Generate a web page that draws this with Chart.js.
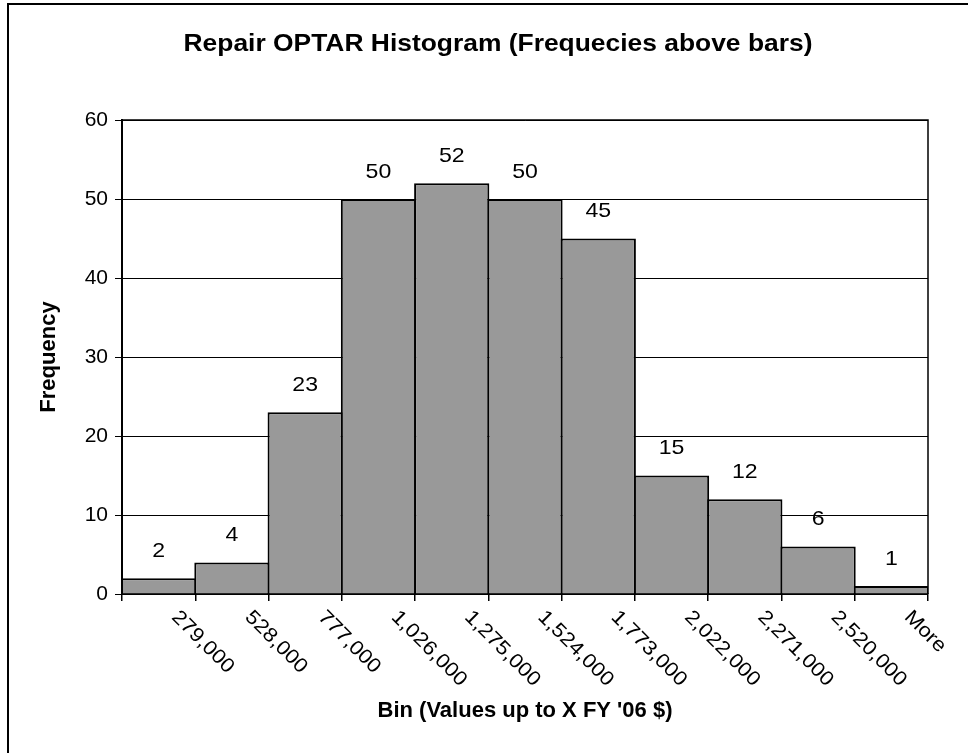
<!DOCTYPE html>
<html>
<head>
<meta charset="utf-8">
<script src="https://cdn.jsdelivr.net/npm/chart.js@4.4.0/dist/chart.umd.min.js"></script>
<style>
  html, body { margin: 0; padding: 0; background: #fff; }
  canvas { display: block; }
</style>
</head>
<body>
<canvas id="histChart" width="968" height="753"></canvas>
<script>
// ======================================================
// DATA
// ======================================================
const binLabels   = ['279,000', '528,000', '777,000', '1,026,000', '1,275,000', '1,524,000',
                     '1,773,000', '2,022,000', '2,271,000', '2,520,000', 'More'];
const frequencies = [2, 4, 23, 50, 52, 50, 45, 15, 12, 6, 1];
const yTicks      = [0, 10, 20, 30, 40, 50, 60];
const chartTitle  = 'Repair OPTAR Histogram (Frequecies above bars)';

const FONT = '"Liberation Sans", Arial, sans-serif';
const STRETCH = 1.1;   // the original text is drawn a bit wide

// ── Outer frame, title and plot border ────────────────
const framePlugin = {
    id: 'frame',
    beforeDraw(chart) {
        const ctx = chart.ctx;
        ctx.save();
        ctx.fillStyle = '#fff';
        ctx.fillRect(0, 0, chart.width, chart.height);
        ctx.strokeStyle = '#000';
        ctx.lineWidth = 2;
        ctx.strokeRect(8, 4, 2000, 2000);

        // title
        ctx.fillStyle = '#000';
        ctx.font = 'bold 24px ' + FONT;
        ctx.textAlign = 'center';
        ctx.textBaseline = 'alphabetic';
        ctx.translate(498, 51);
        ctx.scale(STRETCH, 1);
        ctx.fillText(chartTitle, 0, 0);
        ctx.restore();
    },
    afterDraw(chart) {
        const ctx = chart.ctx;
        const a = chart.chartArea;
        ctx.save();
        ctx.strokeStyle = '#000';
        ctx.lineWidth = 1.5;
        ctx.beginPath();
        ctx.moveTo(a.left, a.top);
        ctx.lineTo(a.right, a.top);
        ctx.lineTo(a.right, a.bottom);
        ctx.stroke();
        ctx.restore();
    }
};

// ── Frequencies above bars + rotated bin labels ───────
const labelPlugin = {
    id: 'labels',
    afterDatasetsDraw(chart) {
        const ctx = chart.ctx;
        const meta = chart.getDatasetMeta(0);
        ctx.save();
        ctx.fillStyle = '#000';
        ctx.font = '21px ' + FONT;
        ctx.textAlign = 'center';
        ctx.textBaseline = 'middle';
        meta.data.forEach((bar, i) => {
            ctx.save();
            ctx.translate(bar.x, bar.y - 27);
            ctx.scale(STRETCH, 1);
            ctx.fillText(String(frequencies[i]), 0, 0);
            ctx.restore();
        });

        const xScale = chart.scales.x;
        ctx.font = '20px ' + FONT;
        ctx.textAlign = 'left';
        ctx.textBaseline = 'middle';
        binLabels.forEach((lbl, i) => {
            const x = xScale.getPixelForTick(i) + 16;
            const y = xScale.top + 20;
            ctx.save();
            ctx.translate(x, y);
            ctx.rotate(Math.PI / 4);
            ctx.scale(STRETCH, 1);
            ctx.fillText(lbl, 0, 0);
            ctx.restore();
        });
        ctx.restore();
    }
};

// ======================================================
// CHART
// ======================================================
const ctx = document.getElementById('histChart').getContext('2d');
new Chart(ctx, {
    type: 'bar',
    data: {
        labels: binLabels,
        datasets: [{
            label: 'Frequency',
            data: frequencies,
            backgroundColor: '#999999',
            borderColor: '#000',
            borderWidth: 2,
            borderSkipped: 'bottom',
            categoryPercentage: 1.0,
            barPercentage: 1.027
        }]
    },
    options: {
        responsive: false,
        animation: false,
        devicePixelRatio: 1,
        layout: { padding: { left: 0, right: 40, top: 120, bottom: 0 } },
        plugins: {
            legend: { display: false },
            tooltip: { enabled: false }
        },
        scales: {
            x: {
                grid: {
                    offset: true,
                    drawOnChartArea: false,
                    drawTicks: true,
                    tickLength: 7,
                    color: '#000',
                    lineWidth: 1.5
                },
                border: { display: true, color: '#000', width: 2 },
                ticks: { display: false },
                title: {
                    display: true,
                    text: "Bin (Values up to X FY '06 $)",
                    color: '#000',
                    font: { family: FONT, size: 22, weight: 'bold' },
                    padding: { top: 0, bottom: 29 }
                },
                afterFit: scale => { scale.height = 159; }
            },
            y: {
                min: 0,
                max: 60,
                afterBuildTicks: scale => { scale.ticks = yTicks.map(v => ({ value: v })); },
                grid: {
                    color: '#000',
                    lineWidth: 1,
                    drawTicks: true,
                    tickLength: 7
                },
                border: { display: true, color: '#000', width: 2 },
                ticks: {
                    color: '#000',
                    padding: 7,
                    font: { family: FONT, size: 21 }
                },
                title: {
                    display: true,
                    text: 'Frequency',
                    color: '#000',
                    font: { family: FONT, size: 22, weight: 'bold' },
                    padding: { top: 36, bottom: 0 }
                },
                afterFit: scale => { scale.width = 122; }
            }
        }
    },
    plugins: [framePlugin, labelPlugin]
});
</script>
</body>
</html>
